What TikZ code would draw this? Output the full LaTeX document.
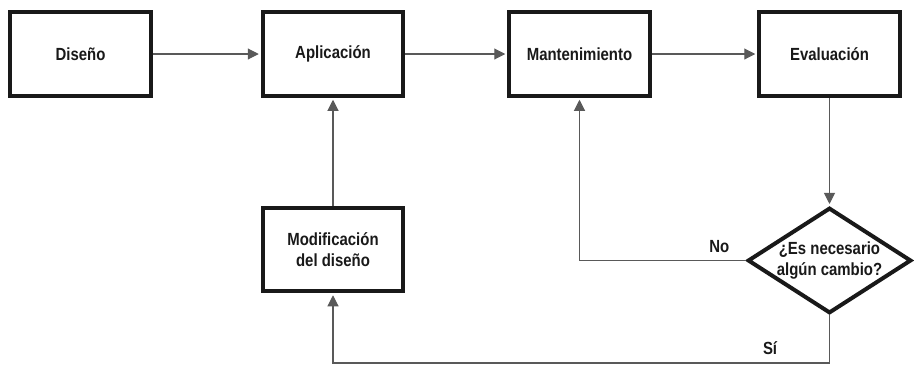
\documentclass[tikz,border=0pt]{standalone}
\usepackage{fontspec}
\setmainfont{Liberation Sans}[FakeStretch=0.85]
\usetikzlibrary{shapes, arrows.meta, calc, positioning, shapes.geometric}
\definecolor{flowink}{rgb}{0.1, 0.1, 0.1}
\definecolor{flowline}{rgb}{0.35, 0.35, 0.35}

\begin{document}
\begin{tikzpicture}[x=0.02cm, y=-0.02cm, every node/.style={font=\bfseries\fontsize{10}{12}\selectfont, text=flowink}]
        \tikzset{
            box/.style={draw=flowink, line width=0.08cm, minimum width=2.82cm, minimum height=1.68cm, align=center, inner sep=0pt},
            decision/.style={draw=flowink, diamond, line width=0.08cm, minimum width=3.24cm, minimum height=2.08cm, aspect=1.55, inner sep=0pt, align=center},
            link/.style={draw=flowline, line width=0.6pt, -{Triangle[length=2.2mm, width=2.2mm]}, shorten >=1pt}
        }
        \useasboundingbox (0,0) rectangle (914,366);

        \node[box] (dis) at (80.5,54) {Diseño};
        \node[box] (apl) at (333,54) {Aplicación};
        \node[box] (man) at (579.5,54) {Mantenimiento};
        \node[box] (eva) at (829.5,54) {Evaluación};
        \node[box] (mod) at (333,249.5) {Modificación\\del diseño};
        \node[decision] (dec) at (829.5,260.5) {¿Es necesario\\algún cambio?};
        \coordinate (esq) at (829.5,363);

        \draw[link] (dis) -- (apl);
        \draw[link] (apl) -- (man);
        \draw[link] (man) -- (eva);
        \draw[link] (eva) -- (dec);
        \draw[link] (mod) -- (apl);
        \draw[link] (dec.west) -| node[at start, above left=1pt and 0.2cm] (no) {No} (man.south);
        \draw[link] (dec.south) -- (esq) -| node[at start, above left=1pt and 0.92cm] (si) {Sí} (mod.south);
    \end{tikzpicture}
\end{document}
